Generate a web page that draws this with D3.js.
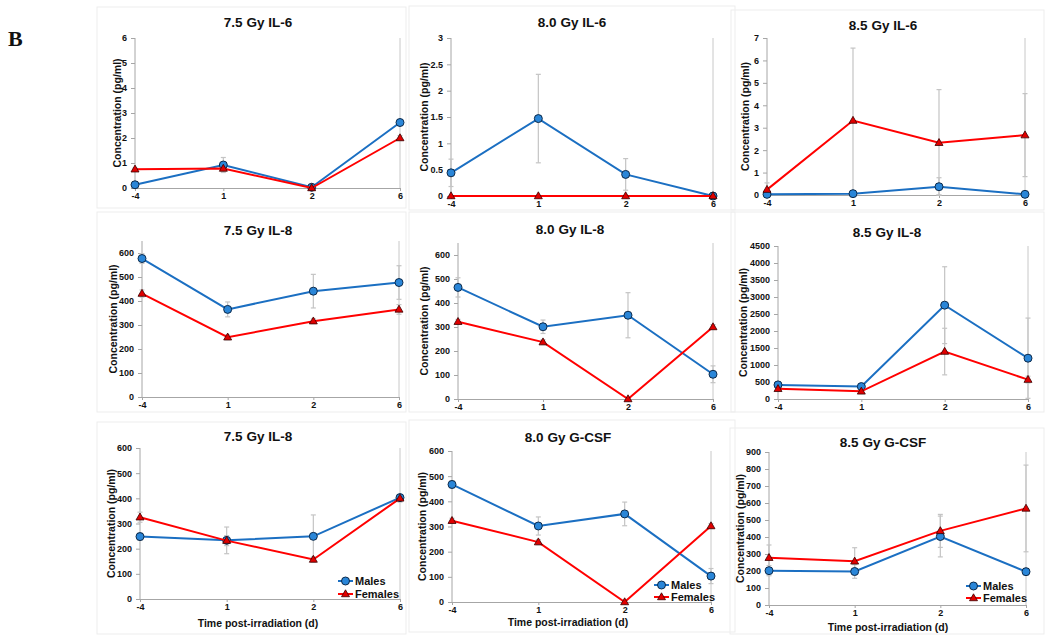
<!DOCTYPE html>
<html>
<head>
<meta charset="utf-8">
<script src="https://cdn.jsdelivr.net/npm/d3@7"></script>
<style>
  body { margin: 0; background: #fff; }
  text { font-family: "Liberation Sans", Arial, sans-serif; font-weight: bold; fill: #111; }
</style>
</head>
<body>
<svg id="vimage" width="1050" height="638"></svg>
<script>
// time points (days post-irradiation)
var days = ["-4", "1", "2", "6"];

var titles = ["7.5 Gy IL-6", "8.0 Gy IL-6", "8.5 Gy IL-6",
              "7.5 Gy IL-8", "8.0 Gy IL-8", "8.5 Gy IL-8",
              "7.5 Gy IL-8", "8.0 Gy G-CSF", "8.5 Gy G-CSF"];

// y axis max and tick step per panel
var yMax  = [6, 3, 7, 650, 650, 4500, 600, 600, 900];
var yTickMax = [6, 3, 7, 600, 600, 4500, 600, 600, 900];
var yStep = [1, 0.5, 1, 100, 100, 500, 100, 100, 100];

var males = [
  [0.13, 0.92, 0.03, 2.62],
  [0.44, 1.47, 0.41, 0.0],
  [0.03, 0.06, 0.37, 0.03],
  [577, 365, 441, 477],
  [465, 301, 349, 103],
  [415, 365, 2760, 1200],
  [248, 233, 249, 403],
  [467, 302, 350, 103],
  [202, 197, 403, 196]
];
var maleErr = [
  [0.05, 0.3, 0.05, 0.05],
  [0.26, 0.84, 0.3, 0.02],
  [0.02, 0.05, 0.4, 0.02],
  [20, 31, 70, 70],
  [40, 28, 94, 35],
  [60, 40, 1130, 1180],
  [15, 53, 85, 10],
  [15, 36, 47, 30],
  [30, 40, 120, 20]
];
var females = [
  [0.75, 0.78, 0.0, 2.0],
  [0.0, 0.0, 0.0, 0.0],
  [0.24, 3.32, 2.33, 2.67],
  [431, 249, 316, 365],
  [322, 237, 0, 300],
  [300, 225, 1395, 570],
  [325, 232, 157, 400],
  [323, 238, 0, 302],
  [278, 257, 436, 568]
];
var femaleErr = [
  [0.05, 0.1, 0.02, 0.1],
  [0, 0, 0, 0],
  [0.3, 3.23, 2.37, 1.85],
  [15, 10, 10, 20],
  [10, 10, 0, 10],
  [50, 30, 685, 100],
  [20, 20, 10, 15],
  [10, 10, 0, 10],
  [75, 80, 97, 255]
];

// layout: plot area [left, right, top, bottom], title, y-label x, box
var plots = [
  [135, 400, 38, 188], [451, 713, 38, 196], [767, 1025, 38, 195],
  [142, 399, 241, 397], [458, 713, 243, 399], [778, 1028, 246, 399],
  [140, 400, 448, 599], [452, 711, 451, 602], [769, 1026, 452, 605]
];
var titlePos = [[258, 22], [572, 22], [883, 25], [258, 230], [570, 229], [887, 232],
                [258, 436], [568, 437], [883, 442]];
var ylabX = [117, 424, 745, 113, 424, 743, 111, 422, 740];
var boxes = [
  [97, 7, 309, 201], [409, 6, 326, 204], [731, 10, 313, 200],
  [97, 212, 309, 200], [409, 212, 326, 200], [731, 212, 313, 200],
  [97, 422, 309, 212], [409, 420, 326, 212], [730, 428, 314, 206]
];
// legends only in bottom row: [lineX0, males y, females y]
var legends = {6: [338, 581, 594], 7: [654, 585, 597], 8: [966, 586, 598]};
var xlabPos = {6: [258, 627], 7: [568, 626], 8: [888, 631]};

var blue = "#1b6fc2", red = "#ff0000", grey = "#a6a6a6", errCol = "#c4c4c4";

var svg = d3.select("#vimage");

svg.append("text").attr("x", 8).attr("y", 46)
  .style("font-family", "'Liberation Serif', 'Times New Roman', serif")
  .style("font-size", "22px").text("B");

function triangle(s) {
  return "M0," + (-s) + "L" + (s * 0.95) + "," + (s * 0.65) + "L" + (-s * 0.95) + "," + (s * 0.65) + "Z";
}

titles.forEach(function(title, i) {
  var p = plots[i];
  var g = svg.append("g");

  g.append("rect").attr("x", boxes[i][0]).attr("y", boxes[i][1])
    .attr("width", boxes[i][2]).attr("height", boxes[i][3])
    .attr("fill", "none").attr("stroke", "#ededed");

  var x = d3.scalePoint().domain(days).range([p[0], p[1]]).padding(0);
  var y = d3.scaleLinear().domain([0, yMax[i]]).range([p[3], p[2]]);

  // right border line
  g.append("line").attr("x1", p[1]).attr("x2", p[1]).attr("y1", p[2]).attr("y2", p[3])
    .attr("stroke", "#c8c8c8");

  var yAxis = d3.axisLeft(y)
    .tickValues(d3.range(0, yTickMax[i] + yStep[i] / 2, yStep[i]))
    .tickSize(4).tickPadding(4).tickFormat(function(d) { return d; });
  var ya = g.append("g").attr("transform", "translate(" + p[0] + ",0)").call(yAxis);
  ya.select(".domain").attr("stroke", grey).attr("d", "M0," + p[2] + "V" + p[3]);
  ya.selectAll(".tick line").attr("stroke", grey);
  ya.selectAll("text").style("font-size", "9px").style("font-family", "'Liberation Sans', Arial, sans-serif")
    .style("font-weight", "bold").attr("fill", "#111");

  var xAxis = d3.axisBottom(x).tickSize(3).tickPadding(2);
  var xa = g.append("g").attr("transform", "translate(0," + p[3] + ")").call(xAxis);
  xa.select(".domain").attr("stroke", grey);
  xa.selectAll(".tick line").attr("stroke", grey);
  xa.selectAll("text").style("font-size", "9px").style("font-family", "'Liberation Sans', Arial, sans-serif")
    .style("font-weight", "bold").attr("fill", "#111");

  g.append("text").attr("x", titlePos[i][0]).attr("y", titlePos[i][1] + 5)
    .attr("text-anchor", "middle").style("font-size", "13.5px").text(title);

  g.append("text")
    .attr("transform", "translate(" + ylabX[i] + "," + ((p[2] + p[3]) / 2) + ") rotate(-90)")
    .attr("text-anchor", "middle").attr("dy", "0.35em")
    .style("font-size", "10.5px").text("Concentration (pg/ml)");

  if (xlabPos[i]) {
    g.append("text").attr("x", xlabPos[i][0]).attr("y", xlabPos[i][1])
      .attr("text-anchor", "middle").style("font-size", "10.5px").text("Time post-irradiation (d)");
  }

  var series = [
    {vals: males[i], err: maleErr[i], col: blue, shape: "circle"},
    {vals: females[i], err: femaleErr[i], col: red, shape: "tri"}
  ];

  // error bars
  series.forEach(function(s) {
    s.vals.forEach(function(v, j) {
      var e = s.err[j];
      if (!e) return;
      var cx = x(days[j]);
      var lo = y(Math.max(0, v - e)), hi = y(v + e);
      g.append("line").attr("x1", cx).attr("x2", cx).attr("y1", lo).attr("y2", hi)
        .attr("stroke", errCol).attr("stroke-width", 1.2);
      [lo, hi].forEach(function(yy) {
        g.append("line").attr("x1", cx - 2.5).attr("x2", cx + 2.5).attr("y1", yy).attr("y2", yy)
          .attr("stroke", errCol).attr("stroke-width", 1.2);
      });
    });
  });

  var line = d3.line().x(function(d, j) { return x(days[j]); }).y(function(d) { return y(d); });

  series.forEach(function(s) {
    g.append("path").datum(s.vals).attr("d", line)
      .attr("fill", "none").attr("stroke", s.col).attr("stroke-width", 2);
    var pts = g.selectAll(null).data(s.vals).enter();
    if (s.shape == "circle") {
      pts.append("circle").attr("cx", function(d, j) { return x(days[j]); })
        .attr("cy", function(d) { return y(d); }).attr("r", 4)
        .attr("fill", "#2a86d8").attr("stroke", "#0d2a4a").attr("stroke-width", 1);
    } else {
      pts.append("path").attr("d", triangle(4.2))
        .attr("transform", function(d, j) { return "translate(" + x(days[j]) + "," + y(d) + ")"; })
        .attr("fill", "#e00000").attr("stroke", "#3a0000").attr("stroke-width", 0.8);
    }
  });

  if (legends[i]) {
    var L = legends[i];
    [[L[1], blue, "circle", "Males"], [L[2], red, "tri", "Females"]].forEach(function(it) {
      g.append("line").attr("x1", L[0]).attr("x2", L[0] + 15).attr("y1", it[0]).attr("y2", it[0])
        .attr("stroke", it[1]).attr("stroke-width", 2);
      if (it[2] == "circle") {
        g.append("circle").attr("cx", L[0] + 7.5).attr("cy", it[0]).attr("r", 4)
          .attr("fill", "#2a86d8").attr("stroke", "#0d2a4a");
      } else {
        g.append("path").attr("d", triangle(4.2))
          .attr("transform", "translate(" + (L[0] + 7.5) + "," + it[0] + ")")
          .attr("fill", "#e00000").attr("stroke", "#3a0000").attr("stroke-width", 0.8);
      }
      g.append("text").attr("x", L[0] + 17).attr("y", it[0]).attr("dy", "0.35em")
        .style("font-size", "11px").text(it[3]);
    });
  }
});
</script>
</body>
</html>
